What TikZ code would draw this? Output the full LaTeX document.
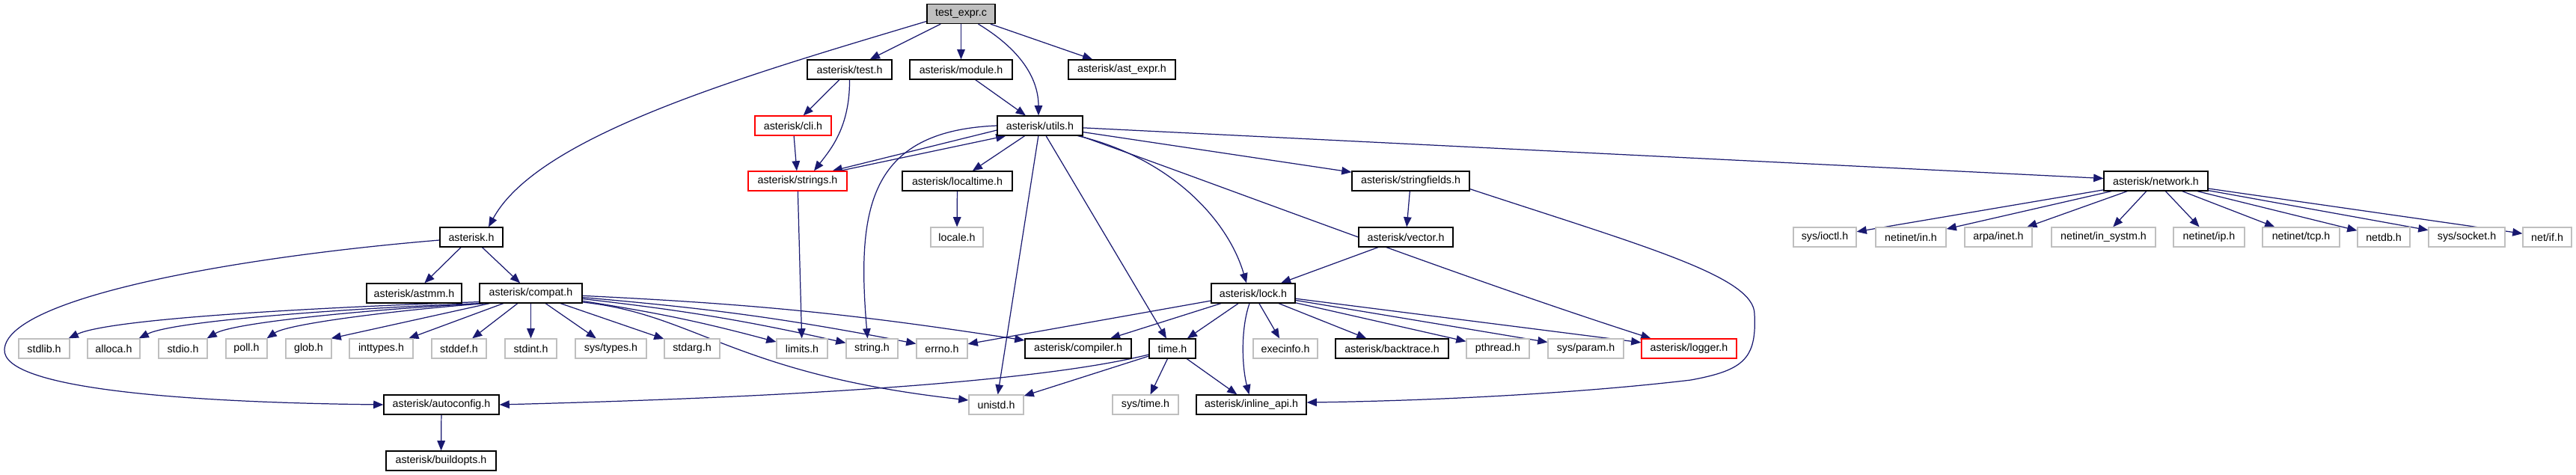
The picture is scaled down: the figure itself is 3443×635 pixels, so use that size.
\documentclass[tikz,border=0pt]{standalone}
\usepackage{fontspec}
\setmainfont{Liberation Sans}
\usetikzlibrary{arrows.meta,calc,backgrounds}
\definecolor{edgec}{HTML}{191970}
\definecolor{greyb}{HTML}{BFBFBF}
\begin{document}
\begin{tikzpicture}[x=0.02cm,y=-0.02cm,
  nd/.style={draw=black, fill=white, line width=0.7pt, minimum height=26*0.02cm, inner sep=0pt, font=\fontsize{8.1}{9.7}\selectfont, text=black},
  sys/.style={nd, draw=greyb},
  rb/.style={nd, draw=red},
  pw/.style={minimum width=#1*0.02cm},
  arr/.style={draw=edgec, line width=0.7pt, -{Triangle[length=7.5pt,width=6pt]}}
]
\useasboundingbox (0,0) rectangle (3443,635);
% row 0
\node[nd, fill=greyb, pw=91] (texpr) at (1284.5,18.5) {test\_expr.c};
% row 1
\node[nd, pw=113] (testh) at (1135.5,93) {asterisk/test.h};
\node[nd, pw=137] (module) at (1284.5,93) {asterisk/module.h};
\node[nd, pw=143] (astexpr) at (1499.5,93) {asterisk/ast\_expr.h};
% row 2
\node[rb, pw=102] (cli) at (1060,168) {asterisk/cli.h};
\node[nd, pw=114] (utils) at (1390,168) {asterisk/utils.h};
% row 3
\node[rb, pw=132] (strings) at (1066,242) {asterisk/strings.h};
\node[nd, pw=147] (localtime) at (1279.5,242) {asterisk/localtime.h};
\node[nd, pw=157] (stringfields) at (1885.5,242) {asterisk/stringfields.h};
\node[nd, pw=139] (network) at (2881.5,242) {asterisk/network.h};
% row 4
\node[nd, pw=84] (asteriskh) at (630,317) {asterisk.h};
\node[sys, pw=70] (locale) at (1279,317) {locale.h};
\node[nd, pw=126] (vector) at (1879,317) {asterisk/vector.h};
\node[sys, pw=84] (ioctl) at (2439,317) {sys/ioctl.h};
\node[sys, pw=94] (netin) at (2554,317) {netinet/in.h};
\node[sys, pw=90] (arpainet) at (2671,317) {arpa/inet.h};
\node[sys, pw=139] (insystm) at (2811.5,317) {netinet/in\_systm.h};
\node[sys, pw=95] (netip) at (2952.5,317) {netinet/ip.h};
\node[sys, pw=103] (nettcp) at (3075.5,317) {netinet/tcp.h};
\node[sys, pw=70] (netdb) at (3186,317) {netdb.h};
\node[sys, pw=102] (syssocket) at (3297,317) {sys/socket.h};
\node[sys, pw=65] (netif) at (3404.5,317) {net/if.h};
% row 5
\node[nd, pw=127] (astmm) at (553.5,392) {asterisk/astmm.h};
\node[nd, pw=137] (compat) at (709.5,392) {asterisk/compat.h};
\node[nd, pw=112] (lock) at (1675,392) {asterisk/lock.h};
% row 6
\node[sys, pw=68] (stdlib) at (59,466) {stdlib.h};
\node[sys, pw=70] (alloca) at (152,466) {alloca.h};
\node[sys, pw=65] (stdio) at (244.5,466) {stdio.h};
\node[sys, pw=55] (poll) at (329.5,466) {poll.h};
\node[sys, pw=61] (glob) at (412.5,466) {glob.h};
\node[sys, pw=85] (inttypes) at (509.5,466) {inttypes.h};
\node[sys, pw=73] (stddef) at (613.5,466) {stddef.h};
\node[sys, pw=69] (stdint) at (709.5,466) {stdint.h};
\node[sys, pw=95] (systypes) at (816.5,466) {sys/types.h};
\node[sys, pw=74] (stdarg) at (925,466) {stdarg.h};
\node[sys, pw=68] (limits) at (1072,466) {limits.h};
\node[sys, pw=69] (string) at (1165.5,466) {string.h};
\node[sys, pw=68] (errno) at (1259,466) {errno.h};
\node[nd, pw=142] (compiler) at (1441,466) {asterisk/compiler.h};
\node[nd, pw=62] (time) at (1567,466) {time.h};
\node[sys, pw=86] (execinfo) at (1718,466) {execinfo.h};
\node[nd, pw=151] (backtrace) at (1860.5,466) {asterisk/backtrace.h};
\node[sys, pw=84] (pthread) at (2002,466) {pthread.h};
\node[sys, pw=101] (sysparam) at (2119.5,466) {sys/param.h};
\node[rb, pw=127] (logger) at (2257.5,466) {asterisk/logger.h};
% row 7
\node[nd, pw=154] (autoconfig) at (590,541) {asterisk/autoconfig.h};
\node[sys, pw=73] (unistd) at (1331.5,541) {unistd.h};
\node[sys, pw=88] (systime) at (1531,541) {sys/time.h};
\node[nd, pw=147] (inlineapi) at (1672.5,541) {asterisk/inline\_api.h};
% row 8
\node[nd, pw=147] (buildopts) at (589.5,616) {asterisk/buildopts.h};

\begin{scope}[on background layer]
\fill[white] (0,0) rectangle (3443,635);
% edges from test_expr.c
\draw[arr] ($(texpr.west)+(0,10)$) .. controls (1000,100) and (720,180) .. ($(asteriskh.north)+(23,0)$);
\draw[arr] (texpr) -- (testh);
\draw[arr] (texpr) -- (module);
\draw[arr] ($(texpr.south)+(23,0)$) .. controls (1370,70) and (1388,110) .. ($(utils.north)+(-2,0)$);
\draw[arr] (texpr) -- (astexpr);
% test.h, module.h, cli.h
\draw[arr] (testh) -- (cli);
\draw[arr] (testh.south) .. controls (1136,170) and (1110,200) .. ($(strings.north)+(22,0)$);
\draw[arr] (module) -- (utils);
\draw[arr] (cli) -- (strings);
% utils.h
\draw[arr] ($(utils.west)+(0,6)$) -- ($(strings.north east)+(-20,0)$);
\draw[arr] ($(strings.north east)+(-10,0)$) -- ($(utils.south west)+(12,0)$);
\draw[arr] (utils) -- (localtime);
\draw[arr] (utils.west) .. controls (1160,175) and (1145,280) .. ($(string.north)+(-6,0)$);
\draw[arr] (utils) -- (unistd);
\draw[arr] (utils) -- (time);
\draw[arr] ($(utils.south east)+(-7,0)$) .. controls (1560,210) and (1640,290) .. ($(lock.north)+(-9,0)$);
\draw[arr] ($(utils.south east)+(-4,0)$) .. controls (1650,255) and (1950,370) .. ($(logger.north)+(-51,0)$);
\draw[arr] (utils) -- (stringfields);
\draw[arr] (utils) -- (network);
% strings, localtime, stringfields, vector
\draw[arr] (strings) -- (limits);
\draw[arr] (localtime) -- (locale);
\draw[arr] (stringfields) -- (vector);
\coordinate (sfa) at (2345,420);
\coordinate (sfb) at (2260,508);
\draw[arr] ($(stringfields.south east)+(0,-3)$) .. controls (2200,330) and (2345,370) .. (sfa) .. controls (2348,480) and (2330,495) .. (sfb) .. controls (2100,527) and (1900,536) .. ($(inlineapi.east)+(0,-3)$);
\draw[arr] (vector) -- (lock);
% network.h
\foreach \t in {ioctl,netin,arpainet,insystm,netip,nettcp,netdb,syssocket,netif}
  \draw[arr] (network) -- (\t);
% asterisk.h
\draw[arr] (asteriskh) -- (astmm);
\draw[arr] (asteriskh) -- (compat);
\coordinate (acl) at (6,467);
\draw[arr] ($(asteriskh.west)+(0,4)$) .. controls (300,345) and (10,400) .. (acl) .. controls (2,520) and (250,538) .. (autoconfig.west);
% compat.h
\draw[arr] ($(compat.south west)+(0,-2)$) .. controls (449,410) and (148,425) .. ($(stdlib.north east)+(-2,0)$);
\draw[arr] ($(compat.south west)+(3,0)$) .. controls (484,411) and (233,428) .. ($(alloca.north east)+(-2,0)$);
\draw[arr] ($(compat.south west)+(6,0)$) .. controls (517,412) and (314,430) .. ($(stdio.north east)+(-1,0)$);
\draw[arr] ($(compat.south west)+(9,0)$) .. controls (547,413) and (386,432) .. ($(poll.north east)+(-1,0)$);
\draw[arr] ($(compat.south west)+(14,0)$) -- ($(glob.north east)+(-1,0)$);
\foreach \t in {inttypes,stddef,stdint,systypes,stdarg}
  \draw[arr] (compat) -- (\t);
\foreach \t in {limits,string,errno,compiler}
  \draw[arr] (compat) to[bend left=3] (\t);
\draw[arr] ($(compat.east)+(0,12)$) .. controls (930,420) and (980,500) .. ($(unistd.west)+(0,-6)$);
% lock.h
\foreach \t in {errno,compiler,time,execinfo,backtrace,pthread,sysparam,logger}
  \draw[arr] (lock) -- (\t);
\draw[arr] ($(lock.south)+(-5,0)$) .. controls (1658,440) and (1660,490) .. ($(inlineapi.north)+(-3,0)$);
% time.h
\draw[arr] ($(time.west)+(0,8)$) .. controls (1350,520) and (900,535) .. (autoconfig.east);
\draw[arr] (time) -- (unistd);
\draw[arr] (time) -- (systime);
\draw[arr] (time) -- (inlineapi);
% autoconfig
\draw[arr] (autoconfig) -- (buildopts);
\end{scope}
\end{tikzpicture}
\end{document}
